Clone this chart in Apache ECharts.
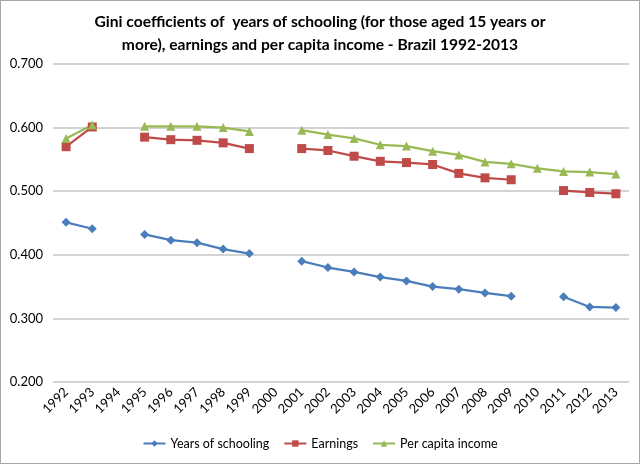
<!DOCTYPE html>
<html>
<head>
<meta charset="utf-8">
<script src="https://cdn.jsdelivr.net/npm/echarts@6/dist/echarts.min.js"></script>
<style>
html, body { margin: 0; padding: 0; background: #fff; }
#chart { width: 640px; height: 464px; box-sizing: border-box; border: 1px solid #a6a6a6; }
</style>
</head>
<body>
<div id="chart"></div>
<script>
// Gini coefficients, Brazil 1992-2013 (no survey in 1994, 2000, and 2010 only for income)
var years = ['1992','1993','1994','1995','1996','1997','1998','1999','2000','2001','2002',
             '2003','2004','2005','2006','2007','2008','2009','2010','2011','2012','2013'];
var schooling = [0.451, 0.441, null, 0.432, 0.423, 0.419, 0.409, 0.402, null, 0.390, 0.380,
                 0.373, 0.365, 0.359, 0.350, 0.346, 0.340, 0.335, null, 0.334, 0.318, 0.317];
var earnings = [0.570, 0.601, null, 0.585, 0.581, 0.580, 0.576, 0.567, null, 0.567, 0.564,
                0.555, 0.547, 0.545, 0.542, 0.528, 0.521, 0.518, null, 0.501, 0.498, 0.496];
var perCapita = [0.583, 0.604, null, 0.602, 0.602, 0.602, 0.600, 0.594, null, 0.596, 0.589,
                 0.583, 0.573, 0.571, 0.563, 0.557, 0.546, 0.543, 0.536, 0.531, 0.530, 0.527];
var seriesNames = ['Years of schooling', 'Earnings', 'Per capita income'];
var titleText = 'Gini coefficients of  years of schooling (for those aged 15 years or\nmore), earnings and per capita income - Brazil 1992-2013';

var myChart = echarts.init(document.getElementById('chart'));

function makeSeries(name, data, color, symbol, size) {
    return {
        name: name,
        type: 'line',
        data: data,
        connectNulls: false,
        symbol: symbol,
        symbolSize: size,
        showAllSymbol: true,
        lineStyle: { color: color, width: 2.25 },
        itemStyle: { color: color },
        emphasis: { disabled: true }
    };
}

var option = {
    animation: false,
    textStyle: { fontFamily: 'Lato' },
    title: {
        text: titleText,
        left: 'center',
        top: 4,
        textStyle: {
            fontFamily: 'Lato',
            fontWeight: 'bold',
            fontSize: 15.6,
            lineHeight: 23,
            color: '#000'
        }
    },
    legend: {
        data: seriesNames,
        bottom: 8,
        left: 'center',
        itemWidth: 22,
        itemHeight: 8,
        itemGap: 14,
        textStyle: { fontFamily: 'Lato', fontSize: 12.5, color: '#000' }
    },
    grid: { left: 52, right: 10, top: 63, bottom: 81, containLabel: false },
    xAxis: {
        type: 'category',
        data: years,
        boundaryGap: true,
        axisLine: { show: false },
        axisTick: { show: false },
        axisLabel: {
            rotate: 45,
            interval: 0,
            margin: 8,
            fontFamily: 'Lato',
            fontSize: 13,
            color: '#000'
        }
    },
    yAxis: {
        type: 'value',
        min: 0.2,
        max: 0.7,
        interval: 0.1,
        axisLine: { show: false },
        axisTick: { show: false },
        splitLine: { lineStyle: { color: '#c4c4c4', width: 1.5 } },
        axisLabel: {
            margin: 10,
            fontFamily: 'Lato',
            fontSize: 13,
            color: '#000',
            formatter: function (v) { return v.toFixed(3); }
        }
    },
    series: [
        makeSeries(seriesNames[0], schooling, '#4a7ebb', 'diamond', 9),
        makeSeries(seriesNames[1], earnings, '#be4b48', 'rect', 9),
        makeSeries(seriesNames[2], perCapita, '#98b954', 'triangle', 9)
    ]
};
myChart.setOption(option);
</script>
</body>
</html>
